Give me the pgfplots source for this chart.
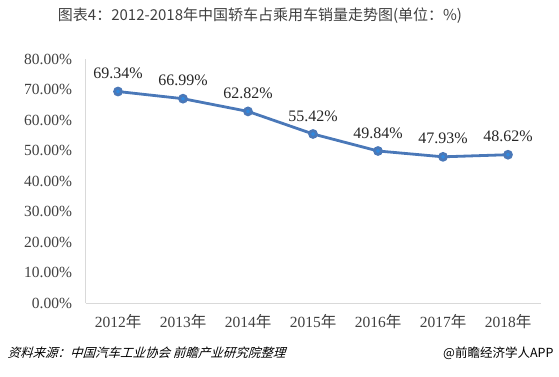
\documentclass[border=0pt]{standalone}
\usepackage{pgfplots}
\pgfplotsset{compat=1.18}
\usepackage{fontspec}
\setmainfont{Liberation Serif}
\newfontfamily\cjk{Noto Sans CJK SC}
\newfontfamily\cjkit[FakeSlant=0.3]{Noto Sans CJK SC}
\definecolor{linec}{RGB}{74,120,184}
\definecolor{markc}{RGB}{46,138,226}
\definecolor{axc}{RGB}{217,217,217}
\definecolor{txt}{RGB}{64,64,64}
\begin{document}
\begin{tikzpicture}[x=1pt,y=1pt]
\useasboundingbox (0,0) rectangle (559,376);
\node[font=\cjk\fontsize{15}{17}\selectfont, text=txt] at (260,360) {图表4：2012-2018年中国轿车占乘用车销量走势图(单位：\%)};
\begin{axis}[
  at={(85.5pt,73pt)}, anchor=south west,
  scale only axis, width=455pt, height=244pt,
  xmin=-0.5, xmax=6.5, ymin=0, ymax=80,
  xtick={0,...,6},
  xticklabels={2012{\cjk 年},2013{\cjk 年},2014{\cjk 年},2015{\cjk 年},2016{\cjk 年},2017{\cjk 年},2018{\cjk 年}},
  ytick={0,10,...,80},
  yticklabel={\pgfmathprintnumber[fixed,fixed zerofill,precision=2]{\tick}\%},
  /pgf/number format/assume math mode=true,
  axis x line*=bottom, axis y line*=left,
  axis line style={axc, line width=0.8pt},
  x axis line style={-}, y axis line style={-},
  major tick length=0pt,
  tick label style={font=\fontsize{15.5}{17}\selectfont, text=txt},
  xticklabel style={yshift=-8pt},
  yticklabel style={xshift=-10pt},
  clip=false,
  nodes near coords={\pgfmathprintnumber[fixed,fixed zerofill,precision=2]{\pgfplotspointmeta}\%},
  nodes near coords style={font=\fontsize{16}{18}\selectfont, text=black!85, anchor=south, yshift=8pt},
]
\addplot[linec, line width=2.8pt, mark=*, mark size=3.4pt, mark options={fill=markc, draw=none}]
coordinates {(0,69.34) (1,66.99) (2,62.82) (3,55.42) (4,49.84) (5,47.93) (6,48.62)};
\end{axis}
\node[anchor=west, font=\cjkit\fontsize{12.5}{14}\selectfont, text=black] at (4,23) {资料来源：中国汽车工业协会 前瞻产业研究院整理};
\node[anchor=east, font=\cjk\fontsize{12.5}{14}\selectfont, text=black] at (557,23) {@前瞻经济学人APP};
\end{tikzpicture}
\end{document}
